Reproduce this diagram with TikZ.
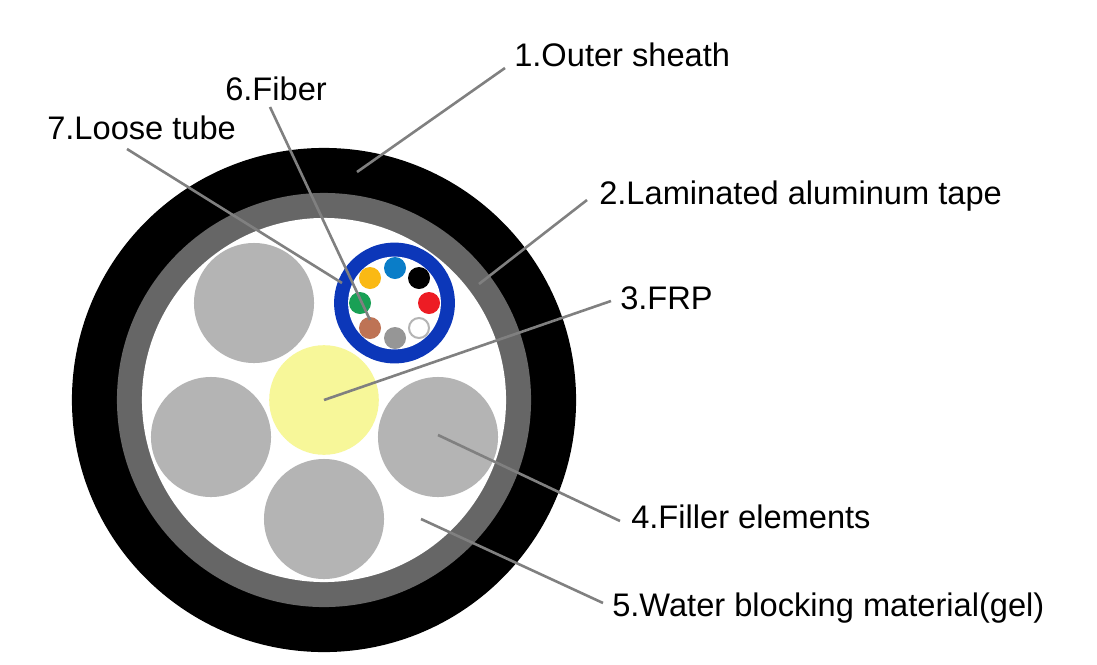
\documentclass[tikz,border=0pt]{standalone}
\usepackage{fontspec}
\setmainfont{Liberation Sans}
\definecolor{fillergray}{RGB}{180,180,180}
\definecolor{tapegray}{RGB}{102,102,102}
\definecolor{linegray}{RGB}{128,128,128}
\definecolor{frpyellow}{RGB}{247,247,153}
\definecolor{tubeblue}{RGB}{12,55,185}
\tikzset{
    layer/.style={shape=circle, inner sep=0pt, outer sep=0pt},
    filler/.style={layer, fill=fillergray, minimum size=3cm},
    fiber/.style={layer, minimum size=0.55cm},
    callout/.style={-, draw=linegray, line width=0.065cm},
    tag/.style={anchor=base west, inner sep=0pt, font=\fontsize{23.2}{26}\selectfont}
}
\begin{document}
\begin{tikzpicture}[x=0.025cm, y=-0.025cm]
    \useasboundingbox (0,0) rectangle (1097,664);
    % cable layers
    \node[layer, fill=black, minimum size=12.6cm] (sheath) at (324,400) {};
    \node[layer, fill=tapegray, minimum size=10.35cm] (tape) at (324,400) {};
    \node[layer, fill=white, minimum size=9.1cm] (gel) at (324,400) {};
    \node[layer, fill=frpyellow, minimum size=2.74cm] (frp) at (324,400) {};

    \node[filler] (f1) at (254,303) {};
    \node[filler] (f2) at (211,437) {};
    \node[filler] (f3) at (324,519) {};
    \node[filler] (f4) at (438,437) {};

    % loose tube with fibers
    \node[layer, fill=tubeblue, minimum size=3.02cm] (tube) at (394.5,303) {};
    \node[layer, fill=white, minimum size=2.32cm] (tubein) at (394.5,303) {};
    \node[fiber, fill={rgb,255:red,10;green,125;blue,200}] (c1) at (395,268) {};
    \node[fiber, fill=black] (c2) at (419,278) {};
    \node[fiber, fill={rgb,255:red,237;green,28;blue,36}] (c3) at (429,303) {};
    \node[fiber, draw=fillergray, line width=0.05cm, fill=white, minimum size=0.5cm] (c4) at (419,328) {};
    \node[fiber, fill={rgb,255:red,150;green,150;blue,150}] (c5) at (395,338) {};
    \node[fiber, fill={rgb,255:red,190;green,115;blue,85}] (c6) at (370,328) {};
    \node[fiber, fill={rgb,255:red,25;green,160;blue,85}] (c7) at (360,303) {};
    \node[fiber, fill={rgb,255:red,250;green,185;blue,20}] (c8) at (370,278) {};

    % labels
    \node[tag] (t1) at (514,66) {1.Outer sheath};
    \node[tag] (t2) at (599,204) {2.Laminated aluminum tape};
    \node[tag] (t3) at (620,309) {3.FRP};
    \node[tag] (t4) at (631,528) {4.Filler elements};
    \node[tag] (t5) at (612,616.5) {5.Water blocking material(gel)};
    \node[tag] (t6) at (225,100) {6.Fiber};
    \node[tag] (t7) at (47,139) {7.Loose tube};

    \coordinate (a1) at (505,68);
    \coordinate (p1) at (357,172);
    \coordinate (a2) at (587,200);
    \coordinate (p2) at (479,284);
    \coordinate (a3) at (611,301);
    \coordinate (p3) at (324,400);
    \coordinate (a4) at (620,521);
    \coordinate (p4) at (438,435);
    \coordinate (a5) at (603,603);
    \coordinate (p5) at (421,519);
    \coordinate (a6) at (270,107);
    \coordinate (p6) at (370,320);
    \coordinate (a7) at (127,149);
    \coordinate (p7) at (342,283);

    \path [callout](a1) edge (p1);
    \path [callout](a2) edge (p2);
    \path [callout](a3) edge (p3);
    \path [callout](a4) edge (p4);
    \path [callout](a5) edge (p5);
    \path [callout](a6) edge (p6);
    \path [callout](a7) edge (p7);
\end{tikzpicture}
\end{document}
